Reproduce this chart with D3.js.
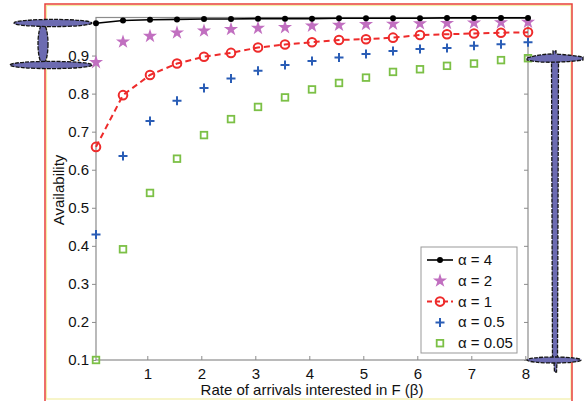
<!DOCTYPE html>
<html>
<head>
<meta charset="utf-8">
<script src="https://cdn.jsdelivr.net/npm/d3@7"></script>
<style>
  body { margin: 0; background: #fff; }
  svg { display: block; }
</style>
</head>
<body>
<div id="chart"></div>
<script>
// beta values (x) shared by every series
const betas = [0.05, 0.55, 1.05, 1.55, 2.05, 2.55, 3.05, 3.55, 4.05,
               4.55, 5.05, 5.55, 6.05, 6.55, 7.05, 7.55, 8.05];

const alpha4   = [0.985, 0.992, 0.994, 0.995, 0.996, 0.996, 0.997, 0.997, 0.997,
                  0.998, 0.998, 0.998, 0.998, 0.999, 0.999, 0.999, 0.999];
const alpha2   = [0.882, 0.936, 0.951, 0.960, 0.965, 0.969, 0.972, 0.974, 0.978,
                  0.980, 0.982, 0.983, 0.984, 0.985, 0.986, 0.987, 0.988];
const alpha1   = [0.660, 0.796, 0.849, 0.879, 0.897, 0.907, 0.921, 0.929, 0.935,
                  0.941, 0.943, 0.947, 0.954, 0.956, 0.958, 0.960, 0.961];
const alpha05  = [0.430, 0.636, 0.728, 0.781, 0.815, 0.840, 0.860, 0.875, 0.886,
                  0.895, 0.904, 0.912, 0.917, 0.920, 0.926, 0.930, 0.935];
const alpha005 = [0.100, 0.391, 0.539, 0.629, 0.691, 0.733, 0.765, 0.790, 0.811,
                  0.828, 0.842, 0.857, 0.864, 0.873, 0.879, 0.888, 0.893];

const legendLabels = ["α = 4", "α = 2", "α = 1", "α = 0.5", "α = 0.05"];
const xTicks = [1, 2, 3, 4, 5, 6, 7, 8];
const yTicks = [0.1, 0.2, 0.3, 0.4, 0.5, 0.6, 0.7, 0.8, 0.9];

const width = 584, height = 401;
const plotL = 96, plotR = 528, plotT = 17.5, plotB = 360;
const font = "'Liberation Sans', Arial, Helvetica, sans-serif";

const svg = d3.select("#chart").append("svg")
    .attr("width", width)
    .attr("height", height)
    .attr("font-family", font);

// outer frames (red + faint yellow)
svg.append("rect")
    .attr("x", 46.5).attr("y", 5.5).attr("width", 524.5).attr("height", 393.5)
    .attr("fill", "none").attr("stroke", "#f2eea6").attr("stroke-width", 1.2);
svg.append("rect")
    .attr("x", 45).attr("y", 4).attr("width", 527).attr("height", 420)
    .attr("fill", "none").attr("stroke", "#e8403a").attr("stroke-width", 1.5);

const x = d3.scaleLinear().domain([0.05, 8.05]).range([plotL, plotR]);
const y = d3.scaleLinear().domain([0.1, 1.0]).range([plotB, plotT]);

// axes box
const axisColor = "#8c8c8c";
svg.append("rect")
    .attr("x", plotL).attr("y", plotT).attr("width", plotR - plotL).attr("height", plotB - plotT)
    .attr("fill", "none").attr("stroke", axisColor).attr("stroke-width", 1.2);

// left ticks (outward) + labels
const yAx = svg.append("g").attr("transform", `translate(${plotL},0)`)
    .call(d3.axisLeft(y).tickValues(yTicks).tickSize(4).tickPadding(3).tickFormat(d3.format(".1f")));
// right ticks pointing into plot
const yAxR = svg.append("g").attr("transform", `translate(${plotR},0)`)
    .call(d3.axisLeft(y).tickValues(yTicks).tickSize(4).tickFormat(""));
// bottom ticks pointing up
const xAx = svg.append("g").attr("transform", `translate(0,${plotB})`)
    .call(d3.axisBottom(x).tickValues(xTicks).tickSizeInner(-4).tickSizeOuter(0).tickPadding(8));

[yAx, yAxR, xAx].forEach(g => {
  g.select(".domain").remove();
  g.selectAll("line").attr("stroke", axisColor);
  g.selectAll("text").attr("fill", "#111").attr("font-size", 15).attr("font-family", font);
});

svg.append("text")
    .attr("x", 312).attr("y", 395)
    .attr("text-anchor", "middle")
    .attr("font-size", 15)
    .attr("fill", "#111")
    .text("Rate of arrivals interested in F (β)");

svg.append("text")
    .attr("transform", "translate(64,190) rotate(-90)")
    .attr("text-anchor", "middle")
    .attr("font-size", 15)
    .attr("fill", "#111")
    .text("Availability");

// marker helpers
const colors = { black: "#000", star: "#c16fc0", red: "#ee2b2b", blue: "#2a5db6", green: "#7cc046" };
const starPath = d3.symbol().type(d3.symbolStar).size(62)();
const plusPath = "M-4.5,0H4.5M0,-4.5V4.5";

function drawMarker(g, kind, color) {
  if (kind === "dot") {
    g.append("circle").attr("r", 3).attr("fill", color);
  } else if (kind === "star") {
    g.append("path").attr("d", starPath).attr("fill", color);
  } else if (kind === "circle") {
    g.append("circle").attr("r", 4.3).attr("fill", "none").attr("stroke", color).attr("stroke-width", 2);
  } else if (kind === "plus") {
    g.append("path").attr("d", plusPath).attr("stroke", color).attr("stroke-width", 2);
  } else if (kind === "square") {
    g.append("rect").attr("x", -3.3).attr("y", -3.3).attr("width", 6.6).attr("height", 6.6)
      .attr("fill", "none").attr("stroke", color).attr("stroke-width", 1.8);
  }
}

const series = [
  { vals: alpha4,   kind: "dot",    color: colors.black, line: "solid" },
  { vals: alpha2,   kind: "star",   color: colors.star,  line: null },
  { vals: alpha1,   kind: "circle", color: colors.red,   line: "dash" },
  { vals: alpha05,  kind: "plus",   color: colors.blue,  line: null },
  { vals: alpha005, kind: "square", color: colors.green, line: null },
];

const lineGen = d3.line().x((d, i) => x(betas[i])).y(d => y(d));

// draw from bottom series up so the top curves sit above
series.slice().reverse().forEach(s => {
  if (s.line) {
    svg.append("path")
        .attr("d", lineGen(s.vals))
        .attr("fill", "none")
        .attr("stroke", s.color)
        .attr("stroke-width", s.line === "dash" ? 2 : 1.6)
        .attr("stroke-dasharray", s.line === "dash" ? "6,4" : null);
  }
  svg.append("g").selectAll("g")
    .data(s.vals)
    .join("g")
      .attr("transform", (d, i) => `translate(${x(betas[i])},${y(d)})`)
      .each(function() { drawMarker(d3.select(this), s.kind, s.color); });
});

// legend
const lg = svg.append("g").attr("transform", "translate(421,247)");
lg.append("rect").attr("width", 96).attr("height", 106)
    .attr("fill", "#fff").attr("stroke", "#999").attr("stroke-width", 1);
series.forEach((s, i) => {
  const row = lg.append("g").attr("transform", `translate(0,${13 + i * 20.8})`);
  if (s.line) {
    row.append("line").attr("x1", 6).attr("x2", 32)
      .attr("stroke", s.color)
      .attr("stroke-width", s.line === "dash" ? 2 : 1.6)
      .attr("stroke-dasharray", s.line === "dash" ? "5,3" : null);
  }
  drawMarker(row.append("g").attr("transform", "translate(19,0)"), s.kind, s.color);
  row.append("text").attr("x", 37).attr("y", 5)
    .attr("font-size", 15).attr("fill", "#111")
    .text(legendLabels[i]);
});

// decorative I-beam shapes
const beamFill = "#6c6bb1";
const beam = svg.append("g")
    .attr("fill", beamFill)
    .attr("stroke", "#151515")
    .attr("stroke-width", 1.3)
    .attr("stroke-dasharray", "4,1.2");

beam.append("ellipse").attr("cx", 43).attr("cy", 44).attr("rx", 5).attr("ry", 20);
beam.append("ellipse").attr("cx", 53).attr("cy", 23).attr("rx", 39).attr("ry", 3.6);
beam.append("ellipse").attr("cx", 51).attr("cy", 65).attr("rx", 41).attr("ry", 3.6);

beam.append("path").attr("d", "M551.5,55 L558.5,55 L557.5,362 L552.5,362 Z");
beam.append("path").attr("d", "M554,362 L557,362 L556.5,372 L554.5,372 Z");
beam.append("path").attr("d", "M527,58 Q540,54 553,54 L553,51 L556,51 L556,54 Q570,55 583,57 L583,60 Q560,63 540,62 Q530,61 527,60 Z");
beam.append("ellipse").attr("cx", 554).attr("cy", 360).attr("rx", 27).attr("ry", 3);
</script>
</body>
</html>
